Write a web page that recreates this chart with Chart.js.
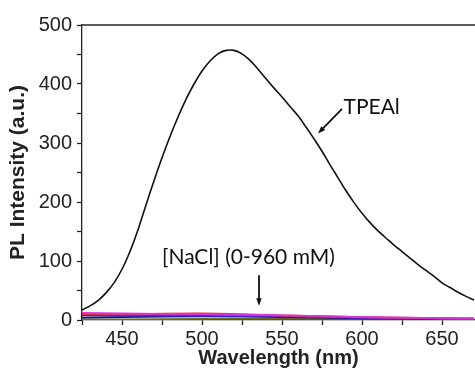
<!DOCTYPE html>
<html>
<head>
<meta charset="utf-8">
<script src="https://cdn.jsdelivr.net/npm/chart.js@4/dist/chart.umd.min.js"></script>
<style>
  html, body { margin: 0; padding: 0; background: #fff; }
  #wrap { width: 475px; height: 376px; }
</style>
</head>
<body>
<div id="wrap"><canvas id="plChart"></canvas></div>
<script>
// emission spectrum, nm
const wavelengths = [
	425, 430, 435, 440, 445, 450, 455, 460, 465, 470,
	475, 480, 485, 490, 495, 500, 505, 510, 515, 520,
	525, 530, 535, 540, 545, 550, 555, 560, 565, 570,
	575, 580, 585, 590, 595, 600, 605, 610, 615, 620,
	625, 630, 635, 640, 645, 650, 655, 660, 665, 670,
];
const tpeal = [
	17, 24, 33, 46, 63, 86, 116, 153, 195, 236,
	275, 311, 344, 374, 400, 422, 439, 451, 457, 457,
	451, 440, 425, 409, 393, 378, 362, 346, 327, 307,
	286, 263, 241, 219, 199, 181, 165, 151, 139, 127,
	116, 105, 94, 84, 74, 63, 55, 47, 40, 34,
];

// quenched spectra with NaCl added
const saltWavelengths = [425, 450, 500, 550, 600, 650, 670];
const saltSeries = [
	{ name: "magenta", color: "#dd33dd", values: [12, 11, 10, 8, 5, 3, 3] },
	{ name: "red", color: "#e0303c", values: [10, 10, 11, 8, 5, 3, 2] },
	{ name: "violet", color: "#8a2be2", values: [10, 9, 9, 7, 4, 3, 2] },
	{ name: "blue", color: "#2a2ad0", values: [8, 7, 7, 6, 4, 2, 2] },
	{ name: "navy", color: "#141460", values: [4, 5, 6, 5, 3, 2, 2] },
	{ name: "olive", color: "#6e6a1e", values: [1, 1, 2, 2, 2, 1, 1] },
];

const xTicks = [450, 500, 550, 600, 650];
const yTicks = [0, 100, 200, 300, 400, 500];

const toPoints = (xs, ys) => xs.map((x, i) => ({ x, y: ys[i] }));

const datasets = saltSeries.map((s) => ({
	label: s.name,
	data: toPoints(saltWavelengths, s.values),
	borderColor: s.color,
	borderWidth: 1.8,
	pointRadius: 0,
	tension: 0.3,
}));
datasets.push({
	label: "TPEAl",
	data: toPoints(wavelengths, tpeal),
	borderColor: "#111",
	borderWidth: 1.6,
	pointRadius: 0,
	tension: 0.4,
});

// labels and arrows, placed in data units
const notes = [
	{ text: "TPEAl", x: 606, y: 361, size: 21 },
	{ text: "[NaCl] (0-960 mM)", x: 529, y: 106, size: 21 },
];
const arrows = [
	{ from: [587.5, 358], to: [572.5, 316] },
	{ from: [535.6, 76], to: [535.6, 24] },
];

const annotate = {
	id: "annotate",
	afterDraw(chart) {
		const { ctx, chartArea, scales } = chart;
		const sx = scales.x, sy = scales.y;
		ctx.save();
		// top frame line
		ctx.strokeStyle = "#222";
		ctx.lineWidth = 1.3;
		ctx.beginPath();
		ctx.moveTo(chartArea.left, chartArea.top);
		ctx.lineTo(chartArea.right, chartArea.top);
		ctx.stroke();

		ctx.fillStyle = "#111";
		ctx.textAlign = "center";
		ctx.textBaseline = "middle";
		notes.forEach((n) => {
			ctx.font = n.size + "px Lato";
			ctx.fillText(n.text, sx.getPixelForValue(n.x), sy.getPixelForValue(n.y));
		});

		ctx.strokeStyle = "#111";
		ctx.lineWidth = 1.8;
		arrows.forEach((a) => {
			const x1 = sx.getPixelForValue(a.from[0]);
			const y1 = sy.getPixelForValue(a.from[1]);
			const x2 = sx.getPixelForValue(a.to[0]);
			const y2 = sy.getPixelForValue(a.to[1]);
			const ang = Math.atan2(y2 - y1, x2 - x1);
			const head = 8;
			ctx.beginPath();
			ctx.moveTo(x1, y1);
			ctx.lineTo(x2 - Math.cos(ang) * 4, y2 - Math.sin(ang) * 4);
			ctx.stroke();
			ctx.beginPath();
			ctx.moveTo(x2, y2);
			ctx.lineTo(x2 - head * Math.cos(ang - 0.35), y2 - head * Math.sin(ang - 0.35));
			ctx.lineTo(x2 - head * Math.cos(ang + 0.35), y2 - head * Math.sin(ang + 0.35));
			ctx.closePath();
			ctx.fill();
		});
		ctx.restore();
	},
};

const tickFont = { family: "'Liberation Sans', Arial", size: 20 };

new Chart(document.getElementById("plChart"), {
	type: "line",
	data: { datasets },
	options: {
		responsive: true,
		maintainAspectRatio: false,
		animation: false,
		layout: { padding: { top: 25, right: 0, left: 0, bottom: 0 } },
		plugins: { legend: { display: false }, tooltip: { enabled: false } },
		scales: {
			x: {
				type: "linear",
				min: 425,
				max: 670.6,
				afterFit: (s) => { s.height = 56; },
				border: { display: true, color: "#222", width: 1.3 },
				grid: { drawOnChartArea: false, tickLength: 5, color: "#222", tickWidth: 1.3 },
				ticks: {
					stepSize: 25,
					includeBounds: false,
					autoSkip: false,
					maxRotation: 0,
					padding: 2,
					color: "#222",
					font: tickFont,
					callback: (v) => (xTicks.includes(v) ? String(v) : ""),
				},
				title: {
					display: true,
					text: "Wavelength (nm)",
					color: "#222",
					font: { family: "'Liberation Sans', Arial", size: 20, weight: "bold" },
					padding: { top: 0, bottom: 6 },
				},
			},
			y: {
				min: 0,
				max: 500,
				afterFit: (s) => { s.width = 82; },
				border: { display: true, color: "#222", width: 1.3 },
				grid: { drawOnChartArea: false, tickLength: 5, color: "#222", tickWidth: 1.3 },
				ticks: {
					stepSize: 50,
					autoSkip: false,
					padding: 5,
					color: "#222",
					font: tickFont,
					callback: (v) => (yTicks.includes(v) ? String(v) : ""),
				},
				title: {
					display: true,
					text: "PL Intensity (a.u.)",
					color: "#222",
					font: { family: "'Liberation Sans', Arial", size: 21, weight: "bold" },
					padding: { top: 6, bottom: 0 },
				},
			},
		},
	},
	plugins: [annotate],
});
</script>
</body>
</html>
